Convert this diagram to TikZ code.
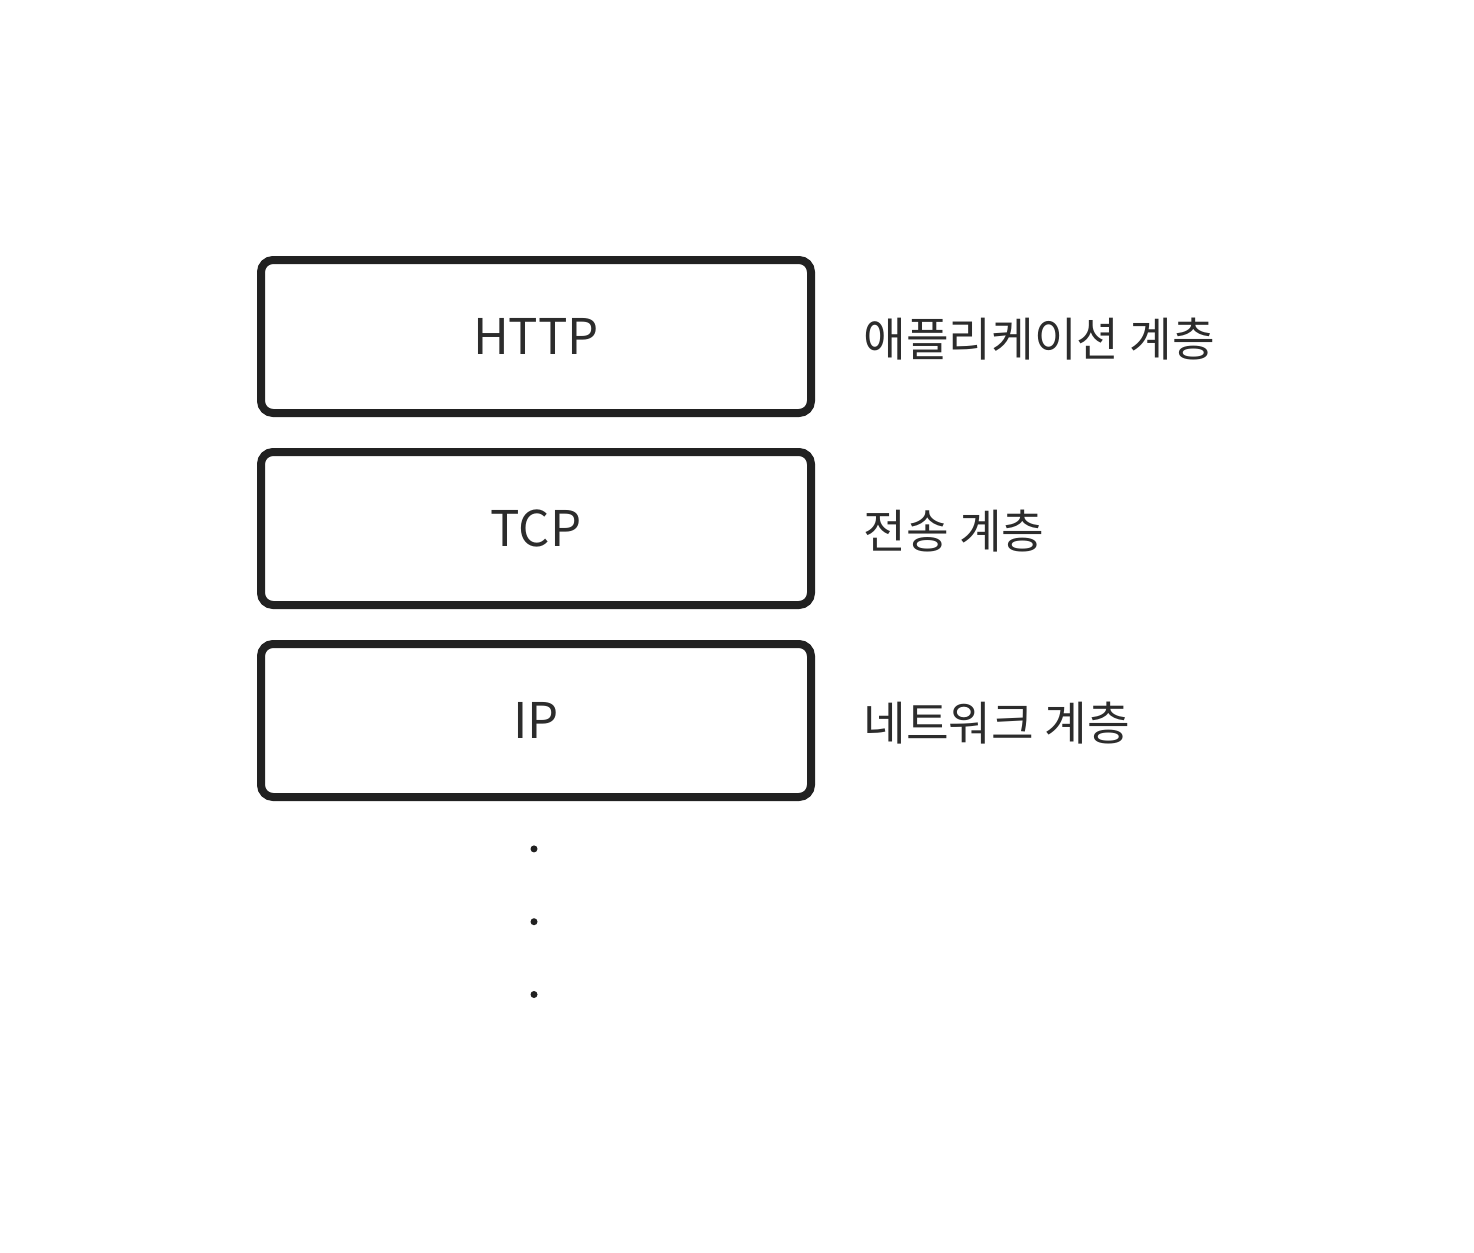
\documentclass[tikz,border=0pt]{standalone}
\usepackage{fontspec}
\setmainfont{Noto Sans CJK KR}
\usepackage{tikz}
\usetikzlibrary{positioning}
\definecolor{LineGray}{HTML}{212121}
\definecolor{TextGray}{HTML}{2C2C2C}

\begin{document}
\begin{tikzpicture}[x=0.5pt,y=-0.5pt]
  \tikzset{LayerNode/.style = {shape = rectangle, rounded corners = 6pt, draw = LineGray, line width = 4pt, minimum width = 275pt, minimum height = 76.5pt, text = TextGray, font = \fontsize{24.6}{30}\selectfont}};
  \tikzset{LayerLabel/.style = {inner sep = 0pt, text = TextGray, font = \fontsize{23.2}{28}\selectfont}};
  \tikzset{DotNode/.style = {shape = circle, fill = LineGray, minimum size = 3.5pt, inner sep = 0pt}};

  \useasboundingbox (0,0) rectangle (1474,1253);

  \node[LayerNode] (http) at (536,336.5) {HTTP};
  \node[LayerNode, below = 15.5pt of http] (tcp) {TCP};
  \node[LayerNode, below = 15.5pt of tcp] (ip) {IP};

  \node[LayerLabel, right = 24pt of http, yshift = -1.5pt] (application layer) {애플리케이션 계층};
  \node[LayerLabel, right = 24pt of tcp, yshift = -1.5pt] (transport layer) {전송 계층};
  \node[LayerLabel, right = 24pt of ip, yshift = -1.5pt] (network layer) {네트워크 계층};

  \node[DotNode, below = 22pt of ip, xshift = -1pt] (dot one) {};
  \node[DotNode, below = 32.5pt of dot one] (dot two) {};
  \node[DotNode, below = 32.5pt of dot two] (dot three) {};
\end{tikzpicture}
\end{document}
